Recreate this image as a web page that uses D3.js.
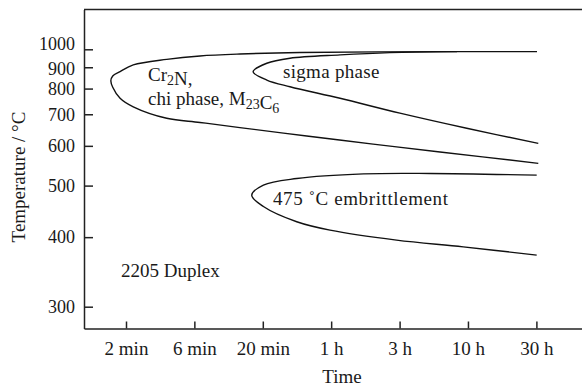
<!DOCTYPE html>
<html><head><meta charset="utf-8">
<script src="https://cdn.jsdelivr.net/npm/d3@7"></script>
<style>body{margin:0;background:#fff}svg{display:block}text{font-family:"Liberation Serif","Times New Roman",serif;fill:#1a1a1a}</style>
</head><body><svg id="c" width="582" height="387"></svg>
<script>
// ---- data ----
const yTickTemps = [300, 400, 500, 600, 700, 800, 900, 1000];
const yTickLabels = ["300", "400", "500", "600", "700", "800", "900", "1000"];
const xTickMinutes = [2, 6.32, 20, 63.2, 200, 632, 2000];
const xTickLabels = ["2 min", "6 min", "20 min", "1 h", "3 h", "10 h", "30 h"];

// C-curve: Cr2N, chi phase, M23C6 (time in minutes, temperature in °C)
const carbideTime = [2020, 395, 37.4, 13.6, 6.95, 3.97, 2.26, 1.81, 1.6, 1.55, 1.6, 1.81, 2.26, 3.97, 6.95, 13.6, 41.9, 128, 395, 2065];
const carbideTemp = [986, 986, 981, 972, 961, 942, 912, 878, 857, 835, 806, 760, 727, 686, 672, 655, 629, 605, 583, 553];
// sigma phase
const sigmaTime = [526, 170, 73.4, 31.6, 21.4, 17.0, 21.4, 31.6, 73.4, 201, 619, 2065];
const sigmaTemp = [986, 980, 967, 948, 921, 878, 838, 808, 760, 704, 653, 607];
// 475 °C embrittlement
const embTime = [2010, 334, 109, 35.4, 20.2, 16.6, 20.2, 35.4, 62, 190, 584, 2010];
const embTemp = [524, 528, 527, 516, 501, 479, 456, 427, 412, 395, 384, 371];

// ---- layout ----
const svg = d3.select("#c");
const L = 84, R = 582, T = 9.5, B = 328.5;
const inv = t => 1 / (t + 273.15);

const xBase = d3.scaleLog().domain([2, 2000]).range([126, 536.4]);
const x = d3.scaleLog().domain([xBase.invert(L), xBase.invert(R)]).range([L, R]);
const yBase = d3.scaleLinear().domain([inv(1000), inv(300)]).range([49.3, 306.7]);
const yInv = d3.scaleLinear().domain([yBase.invert(T), yBase.invert(B)]).range([T, B]);
const y = t => yInv(inv(t));

const font = 19;
// frame top
svg.append("line").attr("x1", L).attr("x2", R).attr("y1", T).attr("y2", T)
  .attr("stroke", "#222").attr("stroke-width", 1.5);

// axes
const xAxis = d3.axisBottom(x).tickValues(xTickMinutes)
  .tickFormat((d, i) => xTickLabels[i]).tickSizeInner(-7).tickSizeOuter(0).tickPadding(13);
const gx = svg.append("g").attr("transform", `translate(0,${B})`).call(xAxis);
const yAxis = d3.axisLeft(yInv).tickValues(yTickTemps.map(inv))
  .tickFormat((d, i) => yTickLabels[i]).tickSizeInner(-9).tickSizeOuter(0).tickPadding(9);
const gy = svg.append("g").attr("transform", `translate(${L},0)`).call(yAxis);
[gx, gy].forEach(g => {
  g.select(".domain").attr("stroke", "#222").attr("stroke-width", 1.5);
  g.selectAll(".tick line").attr("stroke", "#222").attr("stroke-width", 1.5);
  g.selectAll(".tick text").style("font-family", '"Liberation Serif",serif').style("font-size", font + "px").attr("fill", "#1a1a1a");
});
gy.selectAll(".tick text").attr("x", -9).style("font-size", "18px")
  .attr("dy", (d, i) => yTickTemps[i] === 1000 ? "0.0em" : (yTickTemps[i] === 900 ? "0.4em" : "0.32em"));

// curves
const line = d3.line().x(d => x(d[0])).y(d => y(d[1])).curve(d3.curveCatmullRom.alpha(0.5));
[[carbideTime, carbideTemp], [sigmaTime, sigmaTemp], [embTime, embTemp]].forEach(([ts, Ts]) => {
  svg.append("path").datum(ts.map((t, i) => [t, Ts[i]])).attr("d", line)
    .attr("fill", "none").attr("stroke", "#111").attr("stroke-width", 1.4);
});

// annotations
function label(px, py, parts, extra) {
  const t = svg.append("text").attr("x", px).attr("y", py).style("font-size", font + "px");
  if (extra) extra(t);
  parts.forEach(p => {
    if (typeof p === "string") t.append("tspan").text(p);
    else t.append("tspan").attr("dy", p.dy).style("font-size", "14px").text(p.sub);
  });
  return t;
}
label(148, 81, ["Cr", {sub: "2", dy: 4}, {sub: "", dy: -4}, "N,"]);
label(148, 105, ["chi phase, M", {sub: "23", dy: 4}, {sub: "", dy: -4}, "C", {sub: "6", dy: 4}]);
label(283, 78, ["sigma phase"], t => t.style("letter-spacing", "0.3px"));
label(273, 205, ["475 ˚C embrittlement"], t => t.style("letter-spacing", "0.6px"));
label(121, 277, ["2205 Duplex"]);

// axis titles
svg.append("text").attr("x", 342).attr("y", 383).attr("text-anchor", "middle")
  .style("font-size", font + "px").text("Time");
svg.append("text").attr("transform", "translate(25,177) rotate(-90)").attr("text-anchor", "middle")
  .style("font-size", font + "px").text("Temperature / °C");
</script></body></html>
